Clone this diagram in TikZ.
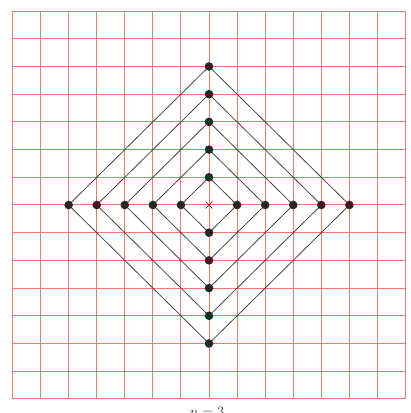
\documentclass[tikz,border=0pt]{standalone}
\usepackage{tikz}
\definecolor{gridred}{RGB}{238,118,118}
\definecolor{diamondgray}{RGB}{70,70,70}

\begin{document}
\begin{tikzpicture}[x=28.07pt, y=27.7pt, every node/.style={font=\Large}]

    % === Page limits ===
    \def\xmin{-7.446}  \def\xmax{7.161}
    \def\ymin{-7.509}  \def\ymax{7.40}
    \def\N{7}          % half the number of grid cells
    \fill[white] (\xmin,\ymin) rectangle (\xmax,\ymax);
    \useasboundingbox (\xmin,\ymin) rectangle (\xmax,\ymax);

    % === Grid ===
    \foreach \i in {-\N,...,\N} {
        \draw[gridred, line width=1pt] (\i,-\N) -- (\i,\N);
        \draw[gridred, line width=1pt] (-\N,\i) -- (\N,\i);
    }

    % === Nested diamonds ===
    \foreach \r in {1,...,5} {
        \coordinate (E\r) at (\r,0);
        \coordinate (N\r) at (0,\r);
        \coordinate (W\r) at (-\r,0);
        \coordinate (S\r) at (0,-\r);
        \draw[diamondgray, line width=0.8pt]
        (E\r) -- (N\r) -- (W\r) -- (S\r) -- cycle;
        % vertex dots
        \foreach \p in {E,N,W,S}
            \fill[black!85] (\p\r) circle (4.3pt);
    }

    % === Centre mark ===
    \coordinate (O) at (0,0);
    \draw[red!40!black, line width=0.6pt]
    ([shift={(-3.5pt,-3.5pt)}]O) -- ([shift={(3.5pt,3.5pt)}]O)
    ([shift={(-3.5pt,3.5pt)}]O) -- ([shift={(3.5pt,-3.5pt)}]O);

    % === Label (cut by the page edge) ===
    \node[anchor=base, text=black!80] (label) at (-0.07,-7.65) {$n=3$};

\end{tikzpicture}
\end{document}
